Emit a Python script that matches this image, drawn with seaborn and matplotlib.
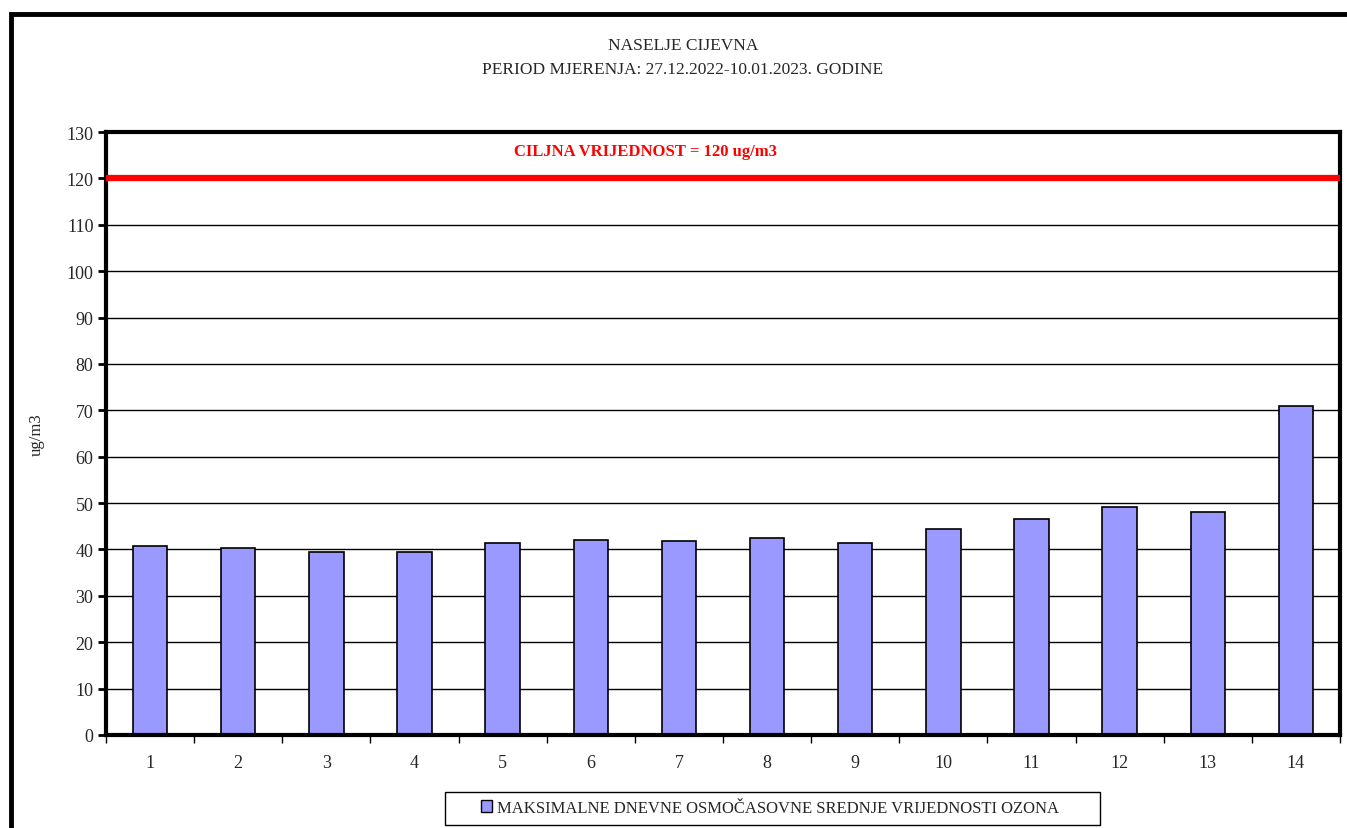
import numpy as np
import pandas as pd
import matplotlib
matplotlib.use("Agg")
import matplotlib.pyplot as plt
import matplotlib.patches as mpatches
import matplotlib.transforms as mtransforms
import seaborn as sns

# Datos
dani = ["1", "2", "3", "4", "5", "6", "7", "8", "9", "10", "11", "12", "13", "14"]
ozon = [40.8, 40.3, 39.4, 39.4, 41.5, 42.0, 41.8, 42.4, 41.5, 44.5, 46.6, 49.2, 48.1, 70.9]
ciljna = 120
naslov = "NASELJE CIJEVNA\nPERIOD MJERENJA: 27.12.2022-10.01.2023. GODINE"
legenda = "MAKSIMALNE DNEVNE OSMOČASOVNE SREDNJE VRIJEDNOSTI OZONA"

df = pd.DataFrame({"dan": dani, "ozon": ozon})

sns.set_style("white")
plt.rcParams["font.family"] = ["Liberation Serif", "DejaVu Serif"]

fig = plt.figure(figsize=(13.47, 8.29), dpi=100)
ax = fig.add_axes([106 / 1347, 1 - 736 / 829, 1234 / 1347, 603 / 829])

# mreza
ax.set_ylim(0, 130)
ax.set_yticks(np.arange(0, 131, 10))
ax.yaxis.grid(True, color="black", linewidth=1)
ax.set_axisbelow(True)

sns.barplot(data=df, x="dan", y="ozon", color="#9999ff", edgecolor="black",
            linewidth=1.2, width=0.39, saturation=1, ax=ax)
ax.set_xlim(-0.5, len(dani) - 0.5)

# ciljna vrijednost
ax.axhline(ciljna, color="red", linewidth=4.5, zorder=5)
trans = mtransforms.blended_transform_factory(ax.transAxes, ax.transData)
ax.text(0.4376, 125.9, "CILJNA VRIJEDNOST = 120 ug/m3", transform=trans,
        color="red", fontweight="bold", fontsize=12, ha="center", va="center")

for s in ax.spines.values():
    s.set_visible(True)
    s.set_color("black")
    s.set_linewidth(3)

ax.set_xticks(np.arange(len(dani)))
ax.set_xticklabels(dani)
ax.set_xticks(np.arange(-0.5, len(dani), 1), minor=True)
ax.tick_params(axis="x", which="major", bottom=False, length=0, pad=14, labelsize=13)
ax.tick_params(axis="x", which="minor", bottom=True, length=6, width=1, direction="out", color="black")
ax.tick_params(axis="y", left=True, length=6, width=2, direction="out", color="black", labelsize=13, pad=3)
ax.set_xlabel("")
ax.set_ylabel("ug/m3", fontsize=12)
ax.yaxis.set_label_coords((45 - 106) / 1234, 0.5)

fig.text(683 / 1347, 1 - 58 / 829, naslov, ha="center", va="center", fontsize=12.5, linespacing=1.75)

# legenda
handle = mpatches.Patch(facecolor="#9999ff", edgecolor="black", linewidth=1)
leg = fig.legend([handle], [legenda], loc="center", bbox_to_anchor=(770 / 1347, 1 - 809 / 829),
                 fontsize=12, frameon=False, handlelength=0.7, handleheight=0.7,
                 handletextpad=0.3, borderpad=0.3, borderaxespad=0)
okvir_leg = mpatches.Rectangle((445 / 1347, 1 - 826 / 829), 655 / 1347, 33 / 829,
                               transform=fig.transFigure, fill=False, edgecolor="black", linewidth=1)
fig.patches.append(okvir_leg)

# okvir oko grafikona
okvir = mpatches.Rectangle((11 / 1347, -0.2), 1.5, 1.2 - 15 / 829, transform=fig.transFigure,
                           fill=False, edgecolor="black", linewidth=3.5)
fig.patches.append(okvir)

fig.savefig("out.png", dpi=100)
